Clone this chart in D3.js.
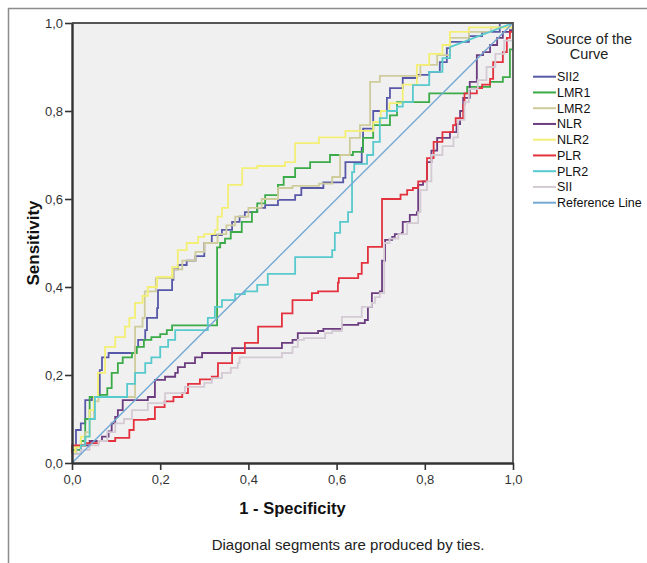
<!DOCTYPE html>
<html>
<head>
<meta charset="utf-8">
<script src="https://cdn.jsdelivr.net/npm/d3@7"></script>
<style>
  body { margin: 0; background: #fff; }
  svg text { font-family: "Liberation Sans", Arial, sans-serif; }
</style>
</head>
<body>
<div id="chart-container"></div>
<script>
// ROC curve points: [1 - specificity, sensitivity]
const sii2 = [[0,0],[0,0.03],[0.009,0.075],[0.02,0.09],[0.03,0.143],[0.045,0.15],[0.063,0.211],[0.068,0.24],[0.083,0.25],[0.143,0.264],[0.15,0.28],[0.166,0.302],[0.17,0.33],[0.193,0.352],[0.195,0.393],[0.227,0.416],[0.23,0.44],[0.24,0.45],[0.26,0.46],[0.28,0.47],[0.3,0.5],[0.317,0.518],[0.34,0.53],[0.363,0.548],[0.38,0.56],[0.392,0.57],[0.42,0.58],[0.438,0.586],[0.467,0.598],[0.506,0.609],[0.52,0.625],[0.57,0.638],[0.615,0.648],[0.62,0.684],[0.657,0.716],[0.66,0.76],[0.683,0.8],[0.714,0.83],[0.721,0.852],[0.75,0.875],[0.782,0.882],[0.81,0.889],[0.834,0.911],[0.85,0.943],[0.857,0.957],[0.9,0.97],[0.93,0.98],[0.97,1],[1,1]];
const lmr1 = [[0,0],[0,0.03],[0.02,0.05],[0.03,0.1],[0.04,0.15],[0.06,0.155],[0.08,0.17],[0.09,0.205],[0.104,0.227],[0.115,0.24],[0.136,0.25],[0.147,0.264],[0.163,0.28],[0.18,0.286],[0.2,0.293],[0.215,0.302],[0.227,0.313],[0.329,0.49],[0.336,0.5],[0.347,0.51],[0.36,0.525],[0.385,0.548],[0.408,0.57],[0.42,0.59],[0.438,0.609],[0.467,0.632],[0.48,0.65],[0.506,0.67],[0.54,0.684],[0.585,0.7],[0.637,0.707],[0.66,0.739],[0.683,0.768],[0.721,0.79],[0.737,0.82],[0.81,0.84],[0.896,0.855],[0.948,0.866],[0.977,0.877],[0.993,0.94],[1,1]];
const lmr2 = [[0,0],[0,0.02],[0.01,0.04],[0.03,0.07],[0.04,0.1],[0.05,0.14],[0.06,0.15],[0.143,0.31],[0.16,0.33],[0.165,0.39],[0.19,0.42],[0.23,0.44],[0.25,0.46],[0.28,0.48],[0.3,0.5],[0.33,0.52],[0.35,0.54],[0.37,0.56],[0.4,0.58],[0.43,0.6],[0.467,0.625],[0.5,0.63],[0.56,0.635],[0.59,0.65],[0.608,0.7],[0.63,0.739],[0.653,0.768],[0.676,0.866],[0.698,0.88],[0.79,0.905],[0.828,0.927],[0.857,0.966],[0.9,0.98],[0.95,0.99],[1,1]];
const nlr = [[0,0],[0,0.02],[0.02,0.04],[0.04,0.05],[0.068,0.06],[0.083,0.072],[0.09,0.09],[0.098,0.105],[0.104,0.12],[0.115,0.143],[0.172,0.15],[0.188,0.189],[0.211,0.196],[0.234,0.205],[0.24,0.218],[0.256,0.227],[0.279,0.24],[0.295,0.25],[0.363,0.261],[0.476,0.273],[0.5,0.28],[0.512,0.295],[0.558,0.3],[0.57,0.305],[0.612,0.314],[0.649,0.318],[0.664,0.325],[0.671,0.355],[0.68,0.386],[0.698,0.39],[0.703,0.46],[0.71,0.507],[0.726,0.514],[0.732,0.52],[0.748,0.523],[0.75,0.548],[0.766,0.564],[0.782,0.57],[0.785,0.632],[0.796,0.64],[0.805,0.684],[0.815,0.71],[0.828,0.739],[0.857,0.752],[0.872,0.77],[0.88,0.8],[0.887,0.83],[0.902,0.866],[0.918,0.927],[0.932,0.934],[0.948,0.95],[0.964,0.966],[0.977,0.98],[0.993,0.984],[1,1]];
const nlr2 = [[0,0],[0,0.02],[0.007,0.036],[0.02,0.06],[0.04,0.12],[0.05,0.15],[0.059,0.205],[0.075,0.264],[0.098,0.286],[0.12,0.31],[0.13,0.33],[0.143,0.364],[0.16,0.38],[0.172,0.4],[0.193,0.423],[0.227,0.445],[0.24,0.484],[0.26,0.5],[0.286,0.514],[0.3,0.52],[0.324,0.53],[0.33,0.56],[0.34,0.58],[0.354,0.632],[0.386,0.67],[0.42,0.675],[0.483,0.684],[0.506,0.727],[0.56,0.74],[0.62,0.755],[0.683,0.775],[0.7,0.8],[0.72,0.818],[0.75,0.86],[0.782,0.905],[0.81,0.93],[0.84,0.95],[0.857,0.98],[0.9,0.99],[1,1]];
const plr = [[0,0],[0,0.04],[0.03,0.045],[0.06,0.05],[0.098,0.057],[0.13,0.075],[0.14,0.098],[0.172,0.1],[0.188,0.127],[0.21,0.14],[0.23,0.15],[0.25,0.159],[0.263,0.18],[0.29,0.19],[0.317,0.196],[0.331,0.227],[0.363,0.25],[0.392,0.273],[0.422,0.31],[0.476,0.34],[0.5,0.37],[0.544,0.386],[0.558,0.39],[0.603,0.41],[0.605,0.42],[0.649,0.43],[0.657,0.455],[0.671,0.491],[0.703,0.6],[0.745,0.61],[0.76,0.62],[0.773,0.625],[0.785,0.64],[0.805,0.693],[0.82,0.73],[0.84,0.752],[0.864,0.768],[0.87,0.784],[0.887,0.814],[0.89,0.84],[0.918,0.852],[0.93,0.86],[0.948,0.873],[0.955,0.911],[0.977,0.934],[0.986,0.966],[0.993,0.98],[1,1]];
const plr2 = [[0,0],[0,0.02],[0.02,0.04],[0.03,0.06],[0.04,0.1],[0.052,0.15],[0.125,0.18],[0.143,0.205],[0.166,0.227],[0.18,0.24],[0.2,0.264],[0.218,0.28],[0.234,0.302],[0.308,0.33],[0.324,0.355],[0.34,0.37],[0.37,0.384],[0.392,0.39],[0.42,0.405],[0.444,0.43],[0.506,0.468],[0.59,0.484],[0.596,0.523],[0.608,0.548],[0.626,0.57],[0.635,0.661],[0.64,0.68],[0.669,0.7],[0.683,0.73],[0.698,0.784],[0.714,0.8],[0.737,0.81],[0.75,0.82],[0.773,0.859],[0.81,0.889],[0.84,0.92],[0.857,0.945]];
const plr2Tie = [[0.857,0.945],[1,1]];
const sii = [[0,0],[0,0.02],[0.02,0.03],[0.04,0.04],[0.06,0.05],[0.08,0.07],[0.098,0.09],[0.118,0.1],[0.136,0.12],[0.172,0.136],[0.211,0.159],[0.256,0.173],[0.3,0.182],[0.317,0.193],[0.34,0.205],[0.36,0.216],[0.376,0.227],[0.38,0.24],[0.476,0.25],[0.5,0.264],[0.512,0.28],[0.526,0.284],[0.574,0.295],[0.59,0.3],[0.612,0.332],[0.657,0.355],[0.68,0.364],[0.687,0.377],[0.698,0.386],[0.708,0.5],[0.72,0.51],[0.74,0.52],[0.76,0.545],[0.785,0.57],[0.79,0.62],[0.805,0.64],[0.815,0.7],[0.84,0.72],[0.865,0.74],[0.875,0.78],[0.89,0.82],[0.9,0.85],[0.92,0.87],[0.94,0.9],[0.96,0.93],[0.98,0.96],[1,1]];
const refLine = [[0,0],[1,1]];

const seriesNames = ["SII2", "LMR1", "LMR2", "NLR", "NLR2", "PLR", "PLR2", "SII", "Reference Line"];
const seriesData = [sii2, lmr1, lmr2, nlr, nlr2, plr, plr2, sii, refLine];
const seriesColors = ["#5858a8", "#3aab48", "#cfcc9c", "#6c3c80", "#f3ef74", "#e3323e", "#58c9cd", "#d4cad4", "#74a9d4"];
const tickValues = [0, 0.2, 0.4, 0.6, 0.8, 1.0];

const width = 647;
const height = 563;
const plot = { left: 72, right: 513, top: 23, bottom: 463 };

const svg = d3.select('#chart-container').append('svg')
  .attr('width', width)
  .attr('height', height);

// outer frame (left and top edges only visible)
svg.append('path')
  .attr('d', `M${width},8.5 H8.5 V${height}`)
  .attr('fill', 'none')
  .attr('stroke', '#8c8c8c')
  .attr('stroke-width', 1.5);

const x = d3.scaleLinear().domain([0, 1]).range([plot.left, plot.right]);
const y = d3.scaleLinear().domain([0, 1]).range([plot.bottom, plot.top]);

// plot background
svg.append('rect')
  .attr('x', plot.left).attr('y', plot.top)
  .attr('width', plot.right - plot.left)
  .attr('height', plot.bottom - plot.top)
  .attr('fill', '#f0f0f0');

const fmt = d => d3.format('.1f')(d).replace('.', ',');

// curves
const stepLine = d3.line().x(d => x(d[0])).y(d => y(d[1])).curve(d3.curveStepAfter);
const straight = d3.line().x(d => x(d[0])).y(d => y(d[1]));

seriesData.forEach((data, i) => {
  const isRef = seriesNames[i] === 'Reference Line';
  if (isRef) return;
  svg.append('path')
    .attr('d', stepLine(data))
    .attr('fill', 'none')
    .attr('stroke', seriesColors[i])
    .attr('stroke-width', 1.8);
  if (seriesNames[i] === 'PLR2') {
    svg.append('path')
      .attr('d', straight(plr2Tie))
      .attr('fill', 'none')
      .attr('stroke', seriesColors[i])
      .attr('stroke-width', 1.8);
  }
});

svg.append('path')
  .attr('d', straight(refLine))
  .attr('fill', 'none')
  .attr('stroke', seriesColors[8])
  .attr('stroke-width', 1.4);

// top and right frame
svg.append('path')
  .attr('d', `M${plot.left},${plot.top} H${plot.right} V${plot.bottom}`)
  .attr('fill', 'none')
  .attr('stroke', '#555')
  .attr('stroke-width', 1.8);

// axes
const xAxis = svg.append('g')
  .attr('transform', `translate(0,${plot.bottom})`)
  .call(d3.axisBottom(x).tickValues(tickValues).tickFormat(fmt).tickSize(7).tickSizeOuter(0));
const yAxis = svg.append('g')
  .attr('transform', `translate(${plot.left},0)`)
  .call(d3.axisLeft(y).tickValues(tickValues).tickFormat(fmt).tickSize(7).tickSizeOuter(0));

[xAxis, yAxis].forEach(g => {
  g.select('.domain').attr('stroke', '#333').attr('stroke-width', 2.4);
  g.selectAll('.tick line').attr('stroke', '#333').attr('stroke-width', 1.6);
  g.selectAll('.tick text')
    .attr('fill', '#333')
    .style('font-size', '13px')
    .style('font-family', '"Liberation Sans", Arial, sans-serif');
});
xAxis.selectAll('.tick text').attr('dy', '1.05em').attr('y', 7);
yAxis.selectAll('.tick text').attr('x', -9);

// axis titles
svg.append('text')
  .attr('x', (plot.left + plot.right) / 2)
  .attr('y', 514)
  .attr('text-anchor', 'middle')
  .style('font-size', '16.5px')
  .style('font-weight', 'bold')
  .attr('fill', '#111')
  .text('1 - Specificity');

svg.append('text')
  .attr('transform', `translate(39,${(plot.top + plot.bottom) / 2}) rotate(-90)`)
  .attr('text-anchor', 'middle')
  .style('font-size', '17px')
  .style('font-weight', 'bold')
  .attr('fill', '#111')
  .text('Sensitivity');

// footnote
svg.append('text')
  .attr('x', 348)
  .attr('y', 550)
  .attr('text-anchor', 'middle')
  .style('font-size', '15px')
  .attr('fill', '#222')
  .text('Diagonal segments are produced by ties.');

// legend
const legend = svg.append('g');
legend.append('text')
  .attr('x', 589).attr('y', 44)
  .attr('text-anchor', 'middle')
  .style('font-size', '14.5px')
  .attr('fill', '#222')
  .text('Source of the');
legend.append('text')
  .attr('x', 589).attr('y', 59)
  .attr('text-anchor', 'middle')
  .style('font-size', '14.5px')
  .attr('fill', '#222')
  .text('Curve');

seriesNames.forEach((name, i) => {
  const cy = 76.7 + i * 15.75;
  legend.append('line')
    .attr('x1', 533).attr('x2', 556)
    .attr('y1', cy).attr('y2', cy)
    .attr('stroke', seriesColors[i])
    .attr('stroke-width', 2);
  legend.append('text')
    .attr('x', 557).attr('y', cy + 4.5)
    .style('font-size', '12.5px')
    .attr('fill', '#111')
    .text(name);
});
</script>
</body>
</html>
